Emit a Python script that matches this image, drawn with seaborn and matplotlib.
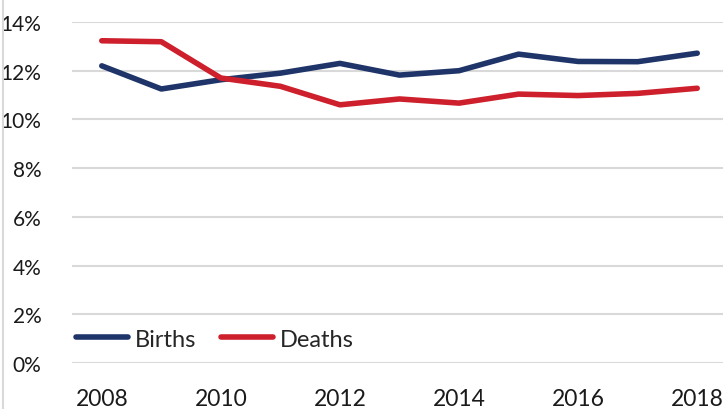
import matplotlib
matplotlib.use("Agg")
import matplotlib.pyplot as plt
import matplotlib.lines as mlines
import pandas as pd
import seaborn as sns

years = [2008, 2009, 2010, 2011, 2012, 2013, 2014, 2015, 2016, 2017, 2018]
births = [12.2, 11.25, 11.63, 11.9, 12.3, 11.82, 12.0, 12.68, 12.38, 12.37, 12.72]
deaths = [13.23, 13.19, 11.7, 11.36, 10.6, 10.84, 10.67, 11.04, 10.98, 11.07, 11.28]
series = ["Births", "Deaths"]
colors = {"Births": "#1F3468", "Deaths": "#CD202C"}

df = pd.DataFrame({
    "year": years * 2,
    "value": births + deaths,
    "series": [series[0]] * len(years) + [series[1]] * len(years),
})

sns.set_style("white")
plt.rcParams["font.family"] = ["Lato", "DejaVu Sans"]

fig = plt.figure(figsize=(7.23, 4.10), dpi=100)
ax = fig.add_axes([72 / 723, 46 / 410, 655 / 723, 341 / 410])

sns.lineplot(data=df, x="year", y="value", hue="series", palette=colors,
             linewidth=4, ax=ax, legend=False,
             solid_capstyle="round", solid_joinstyle="round")

ax.set_xlim(2007.5, 2018.5)
ax.set_ylim(0, 14)
ax.set_yticks(range(0, 15, 2))
ax.set_yticklabels([f"{v}%" for v in range(0, 15, 2)])
ax.set_xticks(range(2008, 2019, 2))
ax.set_xticklabels([str(y) for y in range(2008, 2019, 2)])
ax.grid(axis="y", color="#D9D9D9", linewidth=1.5)
ax.set_axisbelow(True)
for s in ax.spines.values():
    s.set_visible(False)
ax.tick_params(axis="both", length=0, colors="#1a1a1a")
ax.tick_params(axis="y", pad=22, labelsize=15)
ax.tick_params(axis="x", pad=18, labelsize=16.5)
ax.set_xlabel("")
ax.set_ylabel("")

handles = [mlines.Line2D([], [], color=colors[s], linewidth=4,
                         solid_capstyle="round") for s in series]
ax.legend(handles, series, loc="center left", bbox_to_anchor=(0.006, 0.07),
          ncol=2, frameon=False, fontsize=17, handlelength=2.2,
          handletextpad=0.3, columnspacing=1.05, borderaxespad=0,
          borderpad=0)

fig.add_artist(mlines.Line2D([2.5 / 723, 2.5 / 723], [0, 1], color="#D9D9D9",
                             linewidth=1.5, transform=fig.transFigure))

fig.savefig("out.png", dpi=100)
